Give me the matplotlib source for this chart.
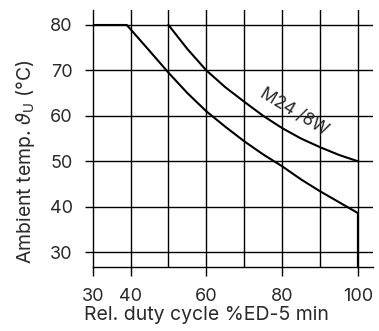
import matplotlib
matplotlib.use('Agg')
import matplotlib.pyplot as plt

plt.rcParams['font.family'] = ['Inter', 'DejaVu Sans']
plt.rcParams['font.weight'] = 'normal'
plt.rcParams['axes.labelweight'] = 'normal'

lower_x = [30, 39, 45, 50, 55, 60, 65, 70, 75, 80, 85, 90, 95, 100, 100]
lower_y = [80, 80, 74.3, 69.5, 65.0, 61.0, 57.6, 54.4, 51.5, 48.9, 46.0, 43.4, 41.0, 38.6, 26.8]
upper_x = [50, 55, 60, 65, 70, 75, 80, 85, 90, 95, 100]
upper_y = [80, 74.7, 70, 66.3, 63.1, 60.0, 57.3, 55.0, 53.1, 51.4, 50]
x_grid = [40, 50, 60, 70, 80, 90, 100]
y_grid = [30, 40, 50, 60, 70, 80]
x_ticks = [30, 40, 60, 80, 100]
curve_label = 'M24 /8W'

txt = '#2a2a2a'

fig = plt.figure(figsize=(3.79, 3.31), dpi=100)
ax = fig.add_axes([0.2446, 0.1943, 0.7388, 0.7755])

for x in x_grid:
    ax.axvline(x, color='black', lw=1.0, zorder=1)
for y in y_grid:
    ax.axhline(y, color='black', lw=1.0, zorder=1)

ax.plot(lower_x, lower_y, color='black', lw=1.5, zorder=3)
ax.plot(upper_x, upper_y, color='black', lw=1.5, zorder=3)

ax.text(83.2, 60.9, curve_label, rotation=-31, fontsize=12.5,
        ha='center', va='center', color=txt, rotation_mode='anchor')

ax.set_xlim(30, 103.9)
ax.set_ylim(26.8, 83.3)
ax.set_xticks(x_ticks)
ax.set_yticks(y_grid)
ax.tick_params(axis='x', direction='out', length=6.7, width=1.0, labelsize=13, pad=9, colors='black')
ax.tick_params(axis='y', direction='out', length=5.5, width=1.0, labelsize=13, pad=9, colors='black')
for lbl in ax.get_xticklabels() + ax.get_yticklabels():
    lbl.set_color(txt)

for side in ['top', 'right']:
    ax.spines[side].set_visible(False)
for side in ['left', 'bottom']:
    ax.spines[side].set_linewidth(1.0)
    ax.spines[side].set_color('black')

ax.set_xlabel('Rel. duty cycle %ED-5 min', fontsize=14, color=txt, va='top')
ax.xaxis.set_label_coords(0.406, -0.153)
ax.set_ylabel(r'Ambient temp. $\vartheta_\mathrm{U}$ (°C)', fontsize=14, color=txt)
ax.yaxis.set_label_coords(-0.2, 0.41)

fig.savefig('out.png', dpi=100)
